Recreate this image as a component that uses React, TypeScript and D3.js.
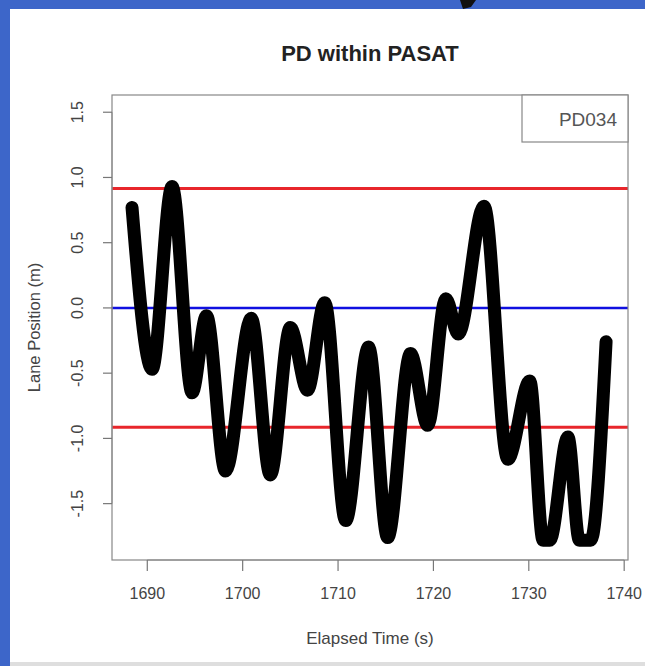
import * as d3 from "d3";

// lane position trace (extrema + end points)
const times = [
  1688.4, 1690.5, 1692.6, 1694.7, 1696.2, 1698.2, 1700.9, 1702.9, 1705.0,
  1706.8, 1708.6, 1710.8, 1713.2, 1715.2, 1717.6, 1719.4, 1721.3, 1722.6,
  1725.3, 1727.8, 1730.1, 1731.5, 1732.2, 1734.1, 1735.3, 1736.5, 1738.1,
];
const positions = [
  0.77, -0.47, 0.93, -0.65, -0.06, -1.25, -0.08, -1.28, -0.15,
  -0.63, 0.04, -1.63, -0.3, -1.76, -0.35, -0.9, 0.07, -0.2,
  0.78, -1.16, -0.56, -1.78, -1.78, -0.99, -1.78, -1.78, -0.26,
];

const xTicks = [1690, 1700, 1710, 1720, 1730, 1740];
const yTicks = [-1.5, -1.0, -0.5, 0.0, 0.5, 1.0, 1.5];
const laneEdges = [0.915, -0.915];
const centerLine = 0;
const legendLabel = "PD034";

const W = 645;
const H = 666;
const box = { left: 112, right: 628, top: 95, bottom: 560 };

export default function App() {
  const x = d3.scaleLinear().domain([1686.3, 1740.4]).range([box.left, box.right]);
  const y = d3.scaleLinear().domain([-1.932, 1.632]).range([box.bottom, box.top]);

  const pts = times.map((t, i) => ({ t, v: positions[i] }));
  const line = d3
    .line<{ t: number; v: number }>()
    .x((d) => x(d.t))
    .y((d) => y(d.v))
    .curve(d3.curveMonotoneX);

  const font = "'Liberation Sans', Arial, Helvetica, sans-serif";
  const midX = (box.left + box.right) / 2;
  const midY = (box.top + box.bottom) / 2;

  return (
    <svg
      width={W}
      height={H}
      style={{ position: "absolute", left: 0, top: 0, background: "#fff" }}
      fontFamily={font}
    >
      {/* slide frame */}
      <rect x={0} y={0} width={W} height={H} fill="#fff" />
      <rect x={0} y={0} width={W} height={9} fill="#3d66c9" />
      <rect x={0} y={0} width={10} height={H} fill="#3d66c9" />
      <rect x={10} y={662} width={W - 10} height={4} fill="#dedede" />
      <path d="M460,0 L476,0 L471,7 L463,9 Z" fill="#111" />

      {/* title */}
      <text x={midX} y={61} textAnchor="middle" fontSize={22} fontWeight="bold" fill="#222">
        PD within PASAT
      </text>

      {/* reference lines */}
      {laneEdges.map((v) => (
        <line key={v} x1={box.left} x2={box.right} y1={y(v)} y2={y(v)} stroke="#e8262b" strokeWidth={3} />
      ))}
      <line x1={box.left} x2={box.right} y1={y(centerLine)} y2={y(centerLine)} stroke="#1010e0" strokeWidth={2.5} />

      {/* trace */}
      <path
        d={line(pts) ?? ""}
        fill="none"
        stroke="#000"
        strokeWidth={13}
        strokeLinecap="round"
        strokeLinejoin="round"
      />

      {/* plot box */}
      <rect
        x={box.left}
        y={box.top}
        width={box.right - box.left}
        height={box.bottom - box.top}
        fill="none"
        stroke="#888"
        strokeWidth={1.2}
      />

      {/* legend */}
      <rect x={522} y={box.top} width={box.right - 522} height={47} fill="#fff" stroke="#888" strokeWidth={1.2} />
      <text x={617} y={126} textAnchor="end" fontSize={19} fill="#555">
        {legendLabel}
      </text>

      {/* x axis */}
      <line x1={x(xTicks[0])} x2={x(xTicks[xTicks.length - 1])} y1={box.bottom} y2={box.bottom} stroke="#888" />
      {xTicks.map((t) => (
        <g key={t}>
          <line x1={x(t)} x2={x(t)} y1={box.bottom} y2={box.bottom + 11} stroke="#777" strokeWidth={1.2} />
          <text x={x(t)} y={599} textAnchor="middle" fontSize={16} fill="#444">
            {t}
          </text>
        </g>
      ))}
      <text x={midX} y={644} textAnchor="middle" fontSize={17} fill="#444">
        Elapsed Time (s)
      </text>

      {/* y axis */}
      <line x1={box.left} x2={box.left} y1={y(yTicks[0])} y2={y(yTicks[yTicks.length - 1])} stroke="#888" />
      {yTicks.map((v) => (
        <g key={v}>
          <line x1={box.left - 9} x2={box.left} y1={y(v)} y2={y(v)} stroke="#777" strokeWidth={1.2} />
          <text
            transform={`translate(83,${y(v)}) rotate(-90)`}
            textAnchor="middle"
            fontSize={16}
            fill="#444"
          >
            {d3.format(".1f")(v).replace("−", "-")}
          </text>
        </g>
      ))}
      <text transform={`translate(40,${midY}) rotate(-90)`} textAnchor="middle" fontSize={16.5} fill="#444">
        Lane Position (m)
      </text>
    </svg>
  );
}
